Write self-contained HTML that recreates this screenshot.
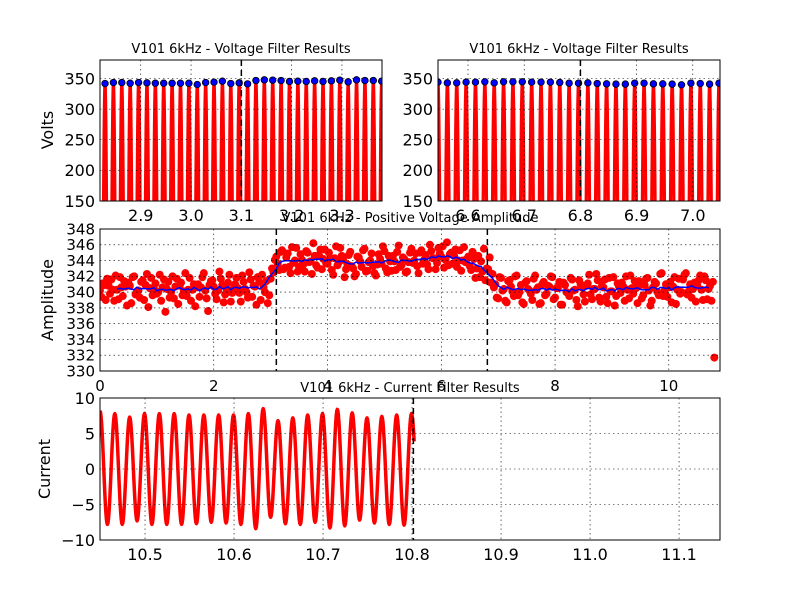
<!DOCTYPE html>
<html><head><meta charset="utf-8">
<style>
html,body{margin:0;padding:0;background:#fff;}
svg{display:block;font-family:"DejaVu Sans","Liberation Sans",sans-serif;}
</style></head>
<body>
<svg id="chart" width="800" height="600" viewBox="0 0 800 600" xmlns="http://www.w3.org/2000/svg">
<rect width="800" height="600" fill="#fff"/>
</svg>
<script>
// ---------- data ----------
const leftVoltagePeaks = [341.8,343.4,343.4,342.3,343.4,342.9,342.3,342.3,342.3,342.3,342.3,340.1,343.4,344.0,345.6,341.8,342.9,341.2,346.7,347.8,347.3,346.7,345.1,345.6,345.1,346.2,345.1,346.2,347.3,344.5,347.8,346.7,346.7,345.6];
const leftFirstPeakTime = 2.829;
const rightVoltagePeaks = [344.0,342.9,342.9,344.0,344.0,344.6,342.9,344.6,344.6,344.6,344.0,344.0,344.0,343.5,342.4,342.4,342.9,341.8,341.3,340.8,340.8,342.4,342.4,341.3,341.3,340.8,339.7,342.4,341.8,340.8,342.4];
const rightFirstPeakTime = 6.5466;
const ampStep = 0.05;
const ampValues = [
340.2,341.1,339.0,340.8,341.6,338.9,340.3,341.9,339.5,340.7,
341.2,338.6,342.0,340.1,339.3,341.5,340.9,338.1,341.8,340.4,
339.8,342.2,340.6,337.5,341.3,340.0,339.2,341.7,340.8,339.6,
342.4,340.3,338.9,341.0,340.6,339.4,341.9,340.2,337.6,341.4,
340.7,339.1,342.6,340.9,339.7,341.2,338.8,340.5,341.8,339.9,
342.1,340.4,339.3,341.6,340.8,338.4,341.3,342.2,340.0,338.6,
341.7,342.5,
344.5,342.8,345.3,343.1,344.9,342.4,343.7,345.6,343.2,344.1,
342.6,345.0,343.9,346.2,343.4,344.7,342.9,345.4,343.6,344.3,
342.2,345.8,343.8,344.6,341.9,343.5,345.1,343.0,342.3,344.4,
343.2,345.5,342.7,344.0,343.3,342.1,344.8,343.6,345.2,342.5,
343.9,344.6,342.8,345.9,343.4,344.2,342.6,345.0,343.7,344.9,
342.4,345.3,344.1,343.5,346.0,344.3,342.9,345.6,344.5,343.1,
346.3,344.8,343.6,345.4,344.0,342.7,345.7,344.2,343.3,345.1,
341.8,344.6,343.9,345.5,343.0,344.4,
342.3,341.0,339.2,341.8,340.4,338.7,341.5,340.1,342.0,339.6,
340.9,338.5,341.4,340.2,339.0,342.1,340.6,338.6,341.3,339.8,
340.7,341.9,339.3,340.5,338.4,341.2,340.0,339.5,341.6,340.3,
338.2,341.0,339.7,340.8,342.2,339.1,340.4,341.5,338.8,340.6,
339.4,341.8,340.1,338.3,341.1,339.9,340.7,342.0,339.2,340.5,
341.4,338.6,340.9,339.6,341.7,340.2,338.9,341.3,340.0,342.3,
339.5,341.0,340.6,338.7,341.9,340.3,339.8,341.6,342.4,340.1,
339.3,341.2,340.8,342.1,339.0,341.5,340.4,338.9,
331.7];
const ampValuesB = [
339.4,340.9,341.7,339.8,340.3,342.1,339.1,340.6,341.4,338.3,
340.8,341.9,339.7,340.2,341.3,339.0,342.3,340.5,339.6,341.1,
340.0,338.9,341.6,340.4,339.3,342.0,340.7,338.5,341.2,340.1,
339.5,341.8,340.3,338.2,341.0,340.6,342.4,339.2,340.9,341.5,
339.8,340.2,341.7,338.7,340.4,342.2,339.9,341.0,340.5,338.8,
341.3,340.0,342.5,339.4,340.7,341.9,339.0,340.6,341.4,339.6,
343.0,344.1,
343.6,345.1,342.9,344.4,343.2,345.7,344.0,342.6,344.8,343.5,
345.2,343.8,342.3,344.6,343.1,345.4,344.2,343.7,345.0,342.8,
344.3,343.4,345.6,344.1,342.9,344.7,343.3,342.0,344.5,343.9,
345.3,342.6,343.8,344.9,342.4,343.5,344.2,345.8,343.0,344.6,
342.7,343.9,345.1,343.2,344.4,342.5,343.8,345.5,344.0,343.3,
345.0,343.6,344.7,342.9,345.2,344.3,343.7,344.9,345.8,344.1,
343.4,345.0,344.6,343.2,345.3,344.0,343.8,344.5,342.8,344.2,
343.0,341.9,342.6,341.5,342.9,341.2,
340.6,339.3,341.9,340.2,338.9,341.4,340.7,339.5,342.1,340.0,
338.7,341.2,340.4,339.8,341.7,340.3,338.5,341.0,339.6,340.8,
342.0,339.1,340.5,341.3,338.4,340.9,339.9,341.8,340.2,339.0,
341.5,340.6,338.8,341.1,339.7,340.4,342.3,339.3,340.8,341.6,
338.6,340.1,341.9,339.5,340.7,341.2,338.9,340.3,342.1,339.8,
340.5,341.4,339.2,340.9,341.8,338.3,340.6,341.1,339.6,342.4,
340.2,339.4,341.3,340.7,338.5,341.7,340.0,342.2,339.7,341.0,
340.4,338.8,341.5,340.3,342.0,339.1,340.8,341.3];
const currentPeaks = [8.2,7.8,7.3,7.8,7.8,7.8,7.6,7.6,7.6,7.6,7.8,8.5,6.8,7.2,7.6,7.8,8.4,7.9,7.2,7.4,7.6,7.8];
const currentTroughs = [-7.8,-7.8,-7.3,-7.8,-7.8,-7.8,-7.7,-7.5,-7.6,-7.8,-8.4,-6.8,-7.7,-7.8,-7.5,-8.3,-8.0,-7.2,-7.6,-7.8,-7.9];
const currentFirstPeakTime = 10.4494;
const currentEndTime = 10.8025;
const voltYTicks = [150,200,250,300,350];
const leftXTicks = [2.9,3.0,3.1,3.2,3.3];
const rightXTicks = [6.6,6.7,6.8,6.9,7.0];
const ampYTicks = [330,332,334,336,338,340,342,344,346,348];
const ampXTicks = [0,2,4,6,8,10];
const curYTicks = [-10,-5,0,5,10];
const curXTicks = [10.5,10.6,10.7,10.8,10.9,11.0,11.1];
const PERIOD = 1/60;

// ---------- helpers ----------
const svg = document.getElementById('chart');
const NS = 'http://www.w3.org/2000/svg';
function mk(tag, attrs, parent){
  const e = document.createElementNS(NS, tag);
  for (const k in attrs) e.setAttribute(k, attrs[k]);
  (parent||svg).appendChild(e);
  return e;
}
function txt(s, x, y, size, anchor, parent){
  const t = mk('text', {x:x, y:y, 'font-size':size, 'text-anchor':anchor||'middle', fill:'#000'}, parent);
  t.textContent = s;
  return t;
}
let clipId = 0;
function makeAxes(name, px0, px1, py0, py1, xmin, xmax, ymin, ymax){
  const g = mk('g', {});
  
  
  const ax = {g, px0, px1, py0, py1,
    x: v => px0 + (v - xmin) / (xmax - xmin) * (px1 - px0),
    y: v => py1 - (v - ymin) / (ymax - ymin) * (py1 - py0)};
  const id = 'clip' + (clipId++);
  const cp = mk('clipPath', {id}, g);
  mk('rect', {x:px0, y:py0, width:px1-px0, height:py1-py0}, cp);
  ax.clip = 'url(#' + id + ')';
  ax.plot = mk('g', {'clip-path': ax.clip}, g);
  return ax;
}
function grid(ax, xt, yt, xfmt, yfmt, fs){
  const gg = mk('g', {}, ax.g);
  
  
  xt.forEach(v => {
    const X = ax.x(v);
    mk('line', {x1:X, x2:X, y1:ax.py0, y2:ax.py1, stroke:'#000', 'stroke-width':0.6, 'stroke-dasharray':'1.5,3'}, gg);
    const t = txt(xfmt(v), X, ax.py1 + 20, fs, 'middle', ax.g);
    
    
  });
  yt.forEach(v => {
    const Y = ax.y(v);
    mk('line', {x1:ax.px0, x2:ax.px1, y1:Y, y2:Y, stroke:'#000', 'stroke-width':0.6, 'stroke-dasharray':'1.5,3'}, gg);
    const t = txt(yfmt(v), ax.px0 - 5, Y + fs*0.36, fs, 'end', ax.g);
    
    
  });
}
function frame(ax){
  mk('rect', {x:ax.px0, y:ax.py0, width:ax.px1-ax.px0, height:ax.py1-ax.py0, fill:'none', stroke:'#000', 'stroke-width':1}, ax.g);
}
function vdash(ax, v){
  const X = ax.x(v);
  const l = mk('line', {x1:X, x2:X, y1:ax.py0, y2:ax.py1, stroke:'#000', 'stroke-width':1.5, 'stroke-dasharray':'6,4'}, ax.g);
  
  
}
function wavePath(ax, t0, extrema, tEnd){
  let d = '';
  const half = PERIOD/2;
  for (let k = 0; k < extrema.length - 1; k++){
    const a = extrema[k], b = extrema[k+1];
    for (let s = 0; s <= 14; s++){
      if (k > 0 && s === 0) continue;
      const f = s/14;
      const t = t0 + (k + f) * half;
      if (tEnd !== undefined && t > tEnd) break;
      const v = a*(1+Math.cos(Math.PI*f))/2 + b*(1-Math.cos(Math.PI*f))/2;
      d += (d ? 'L' : 'M') + ax.x(t).toFixed(2) + ',' + ax.y(v).toFixed(2);
    }
  }
  return d;
}
function ylabel(s, x, y){
  const t = txt(s, x, y, 16, 'middle');
  t.setAttribute('transform', 'rotate(-90 ' + x + ' ' + y + ')');
  return t;
}
function title(s, x, y){
  const t = txt(s, x, y, 13, 'middle');
  
  
  return t;
}
function voltagePanel(name, px0, px1, xmin, xmax, peaks, firstPeak, xt, marker){
  const ax = makeAxes(name, px0, px1, 60, 201, xmin, xmax, 150, 380.2);
  grid(ax, xt, voltYTicks, v => v.toFixed(1), v => String(v), 16);
  const ext = [];
  ext.push(-peaks[0]);
  peaks.forEach((p, i) => { ext.push(p); ext.push(-(peaks[i+1] !== undefined ? peaks[i+1] : p)); });
  const path = mk('path', {d: wavePath(ax, firstPeak - PERIOD/2, ext), fill:'none', stroke:'#ff0000', 'stroke-width':3.2, 'stroke-linejoin':'round'}, ax.plot);
  
  
  peaks.forEach((p, i) => {
    const c = mk('circle', {cx: ax.x(firstPeak + i*PERIOD), cy: ax.y(p), r:3.3, fill:'#0000ff', stroke:'#000', 'stroke-width':0.8}, ax.plot);
    
    
  });
  vdash(ax, marker);
  frame(ax);
  return ax;
}

// ---------- top-left ----------
voltagePanel('voltage-panel-left', 100, 382, 2.819, 3.3796, leftVoltagePeaks, leftFirstPeakTime, leftXTicks, 3.1);
title('V101 6kHz - Voltage Filter Results', 241, 53);
const yl1 = ylabel('Volts', 53, 130);



// ---------- top-right ----------
voltagePanel('voltage-panel-right', 438, 720, 6.5466, 7.0484, rightVoltagePeaks, rightFirstPeakTime, rightXTicks, 6.8);
title('V101 6kHz - Voltage Filter Results', 579, 53);

// ---------- middle ----------
const am = makeAxes('amplitude-panel', 100, 720, 229, 371, 0, 10.9, 330, 348);
grid(am, ampXTicks, ampYTicks, v => String(v), v => String(v), 15);
ampValues.forEach((v, i) => {
  const c = mk('circle', {cx: am.x(i*ampStep), cy: am.y(v), r:4, fill:'#ff0000'}, am.plot);
  
  
});
ampValuesB.forEach((v, i) => {
  const c = mk('circle', {cx: am.x(i*ampStep + ampStep/2), cy: am.y(v), r:4, fill:'#ff0000'}, am.plot);
  
  
});
(function(){
  const W = 3; let d = '';
  const n = ampValues.length - 1;
  for (let i = W + 3; i < n - 1; i++){
    let s = 0, c = 0;
    for (let j = i - W; j <= Math.min(i + W, n - 1); j++){
      s += ampValues[j]; c++;
      if (ampValuesB[j] !== undefined){ s += ampValuesB[j]; c++; }
    }
    d += (d ? 'L' : 'M') + am.x(i*ampStep).toFixed(2) + ',' + am.y(s/c).toFixed(2);
  }
  const p = mk('path', {d, fill:'none', stroke:'#0000ff', 'stroke-width':1.5}, am.plot);
  
  
})();
vdash(am, 3.1);
vdash(am, 6.81);
frame(am);
title('V101 6kHz - Positive Voltage Amplitude', 410, 222);
const yl2 = ylabel('Amplitude', 53, 300);



// ---------- bottom ----------
const cu = makeAxes('current-panel', 100, 720, 398, 540, 10.4494, 11.146, -10, 10);
grid(cu, curXTicks, curYTicks, v => v.toFixed(1), v => (v < 0 ? '\u2212' + Math.abs(v) : String(v)), 16);
(function(){
  const ext = [];
  currentPeaks.forEach((p, i) => { ext.push(p); if (currentTroughs[i] !== undefined) ext.push(currentTroughs[i]); });
  ext.push(-6);
  const p = mk('path', {d: wavePath(cu, currentFirstPeakTime, ext, currentEndTime), fill:'none', stroke:'#ff0000', 'stroke-width':3.5, 'stroke-linejoin':'round'}, cu.plot);
  
  
})();
vdash(cu, 10.8015);
frame(cu);
title('V101 6kHz - Current Filter Results', 410, 392);
const yl3 = ylabel('Current', 50, 469);


</script>
</body></html>
